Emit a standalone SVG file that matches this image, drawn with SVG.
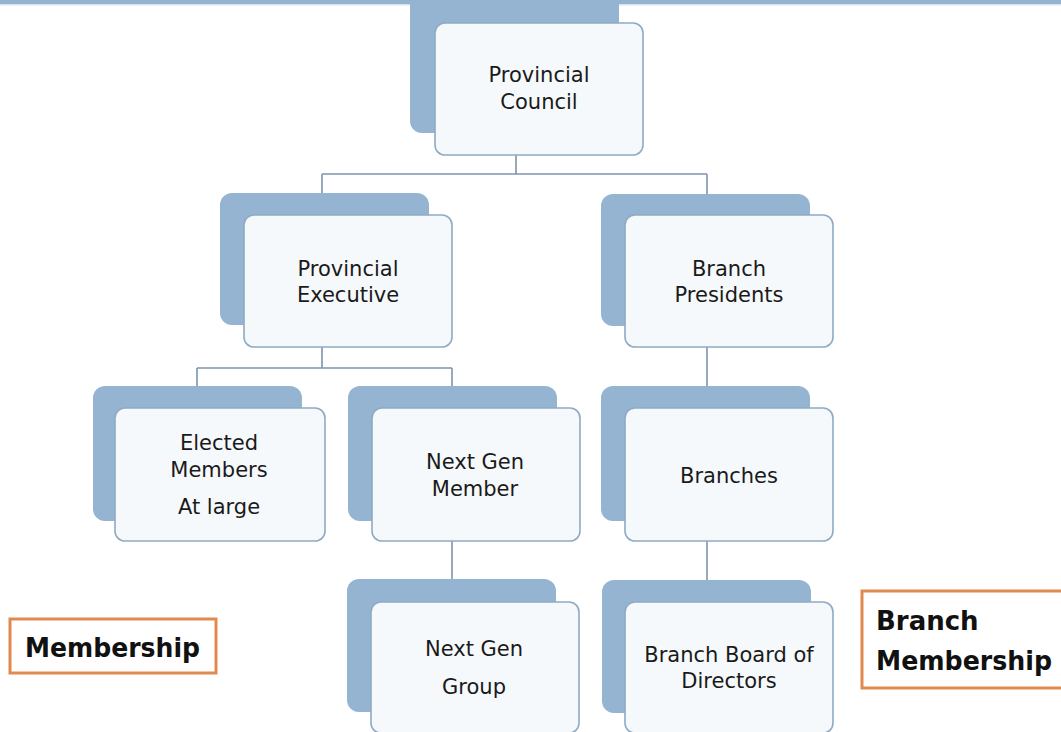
<svg xmlns="http://www.w3.org/2000/svg" width="1061" height="732" viewBox="0 0 1061 732">
<style>
.back{fill:#94b4d1;}
.front{fill:#f6f9fb;stroke:#8faac4;stroke-width:1.6;}
.lbl{font-family:"DejaVu Sans","Liberation Sans",sans-serif;font-size:21px;fill:#1a1a1a;text-anchor:middle;}
.conn{fill:none;stroke:#7d95ad;stroke-width:1.6;}
.note{fill:#ffffff;stroke:#e08a50;stroke-width:3;}
.ntxt{font-family:"DejaVu Sans","Liberation Sans",sans-serif;font-weight:bold;font-size:26px;fill:#111;}
</style>
<rect x="0" y="0" width="1061" height="732" fill="#ffffff"/>
<rect x="0" y="0" width="1061" height="4" fill="#93b3d1"/>
<rect x="0" y="4" width="1061" height="1.5" fill="#d6e3ef"/>
<g id="connectors">
<path class="conn" d="M516 155 V174 M322 174 H707 M322 174 V194 M707 174 V194"/>
<path class="conn" d="M322 347 V368 M197 368 H452 M197 368 V387 M452 368 V387"/>
<path class="conn" d="M707 347 V387"/>
<path class="conn" d="M452 541 V580"/>
<path class="conn" d="M707 541 V580"/>
</g>
<g id="provincial-council">
<rect class="back" x="410" y="-12" width="209" height="145" rx="12"/>
<rect class="front" x="435" y="23" width="208" height="132" rx="10"/>
<text class="lbl" x="539" y="82">Provincial</text>
<text class="lbl" x="539" y="109">Council</text>
</g>
<g id="provincial-executive">
<rect class="back" x="220" y="193" width="209" height="132" rx="12"/>
<rect class="front" x="244" y="215" width="208" height="132" rx="10"/>
<text class="lbl" x="348" y="276">Provincial</text>
<text class="lbl" x="348" y="302">Executive</text>
</g>
<g id="branch-presidents">
<rect class="back" x="601" y="194" width="209" height="132" rx="12"/>
<rect class="front" x="625" y="215" width="208" height="132" rx="10"/>
<text class="lbl" x="729" y="276">Branch</text>
<text class="lbl" x="729" y="302">Presidents</text>
</g>
<g id="elected-members">
<rect class="back" x="93" y="386" width="209" height="135" rx="12"/>
<rect class="front" x="115" y="408" width="210" height="133" rx="10"/>
<text class="lbl" x="219" y="450">Elected</text>
<text class="lbl" x="219" y="477">Members</text>
<text class="lbl" x="219" y="514">At large</text>
</g>
<g id="next-gen-member">
<rect class="back" x="348" y="386" width="209" height="135" rx="12"/>
<rect class="front" x="372" y="408" width="208" height="133" rx="10"/>
<text class="lbl" x="475" y="469">Next Gen</text>
<text class="lbl" x="475" y="496">Member</text>
</g>
<g id="branches">
<rect class="back" x="601" y="386" width="209" height="135" rx="12"/>
<rect class="front" x="625" y="408" width="208" height="133" rx="10"/>
<text class="lbl" x="729" y="483">Branches</text>
</g>
<g id="next-gen-group">
<rect class="back" x="347" y="579" width="209" height="133" rx="12"/>
<rect class="front" x="371" y="602" width="208" height="131" rx="10"/>
<text class="lbl" x="474" y="656">Next Gen</text>
<text class="lbl" x="474" y="694">Group</text>
</g>
<g id="branch-board">
<rect class="back" x="602" y="580" width="209" height="133" rx="12"/>
<rect class="front" x="625" y="602" width="208" height="131" rx="10"/>
<text class="lbl" x="729" y="662">Branch Board of</text>
<text class="lbl" x="729" y="688">Directors</text>
</g>
<g id="membership">
<rect class="note" x="10" y="619" width="206" height="54"/>
<text class="ntxt" x="25" y="657" textLength="175" lengthAdjust="spacingAndGlyphs">Membership</text>
</g>
<g id="branch-membership">
<rect class="note" x="862" y="591" width="204" height="97"/>
<text class="ntxt" x="876" y="630">Branch</text>
<text class="ntxt" x="876" y="670" textLength="176" lengthAdjust="spacingAndGlyphs">Membership</text>
</g>
</svg>
